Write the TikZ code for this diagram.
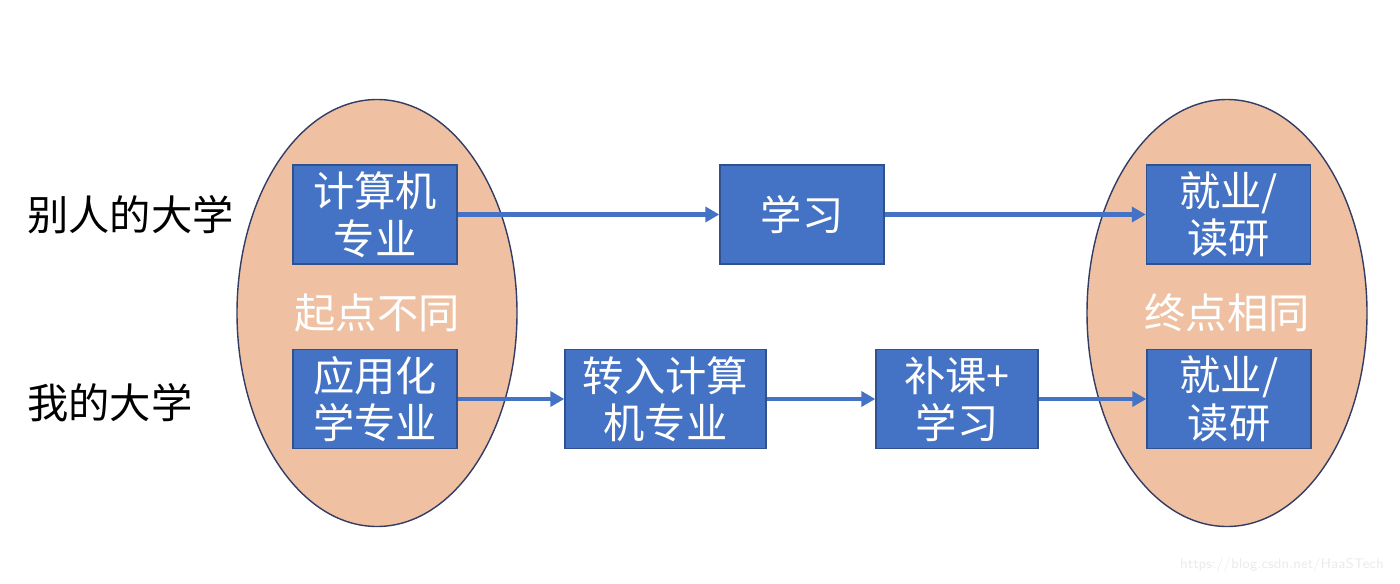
\documentclass[tikz,border=0pt]{standalone}
\usepackage{fontspec}
\setmainfont{Noto Sans CJK SC}
\usepackage{tikz}
\usetikzlibrary{positioning,arrows.meta,shapes.geometric}
\definecolor{BoxBlue}{RGB}{68,114,196}
\definecolor{BoxEdge}{RGB}{47,82,143}
\definecolor{EggFill}{RGB}{239,193,162}
\definecolor{EggEdge}{RGB}{50,60,100}
\tikzset{
  egg/.style={ellipse, draw=EggEdge, fill=EggFill, line width=0.8pt,
    minimum width=5.6cm, minimum height=8.54cm},
  stage/.style={rectangle, draw=BoxEdge, fill=BoxBlue, text=white, align=center,
    line width=0.8pt, minimum width=3.28cm, minimum height=1.98cm, inner sep=0pt,
    font=\fontsize{23.5}{27}\selectfont},
  side/.style={anchor=west, inner sep=0pt, font=\fontsize{23.5}{27}\selectfont},
  note/.style={text=white, inner sep=0pt, font=\fontsize{23.5}{27}\selectfont},
  arrow/.style={-{Triangle[length=0.28cm, width=0.3cm]}, line width=2.4pt, draw=BoxBlue}
}

\begin{document}
\begin{tikzpicture}
  \useasboundingbox (0,0) rectangle (28,-11.66);
  \node[egg] (start) at (7.54,-6.26) {};
  \node[egg] (goal) at (24.54,-6.26) {};
  \node[note] (diff) at (start) {起点不同};
  \node[note] (same) at (goal) {终点相同};
  \node[side] (others) at (0.54,-4.30) {别人的大学};
  \node[side] (mine) at (0.54,-8.06) {我的大学};
  % others' route
  \node[stage] (cs) at (7.5,-4.29) {计算机\\专业};
  \node[stage] (study) at (16.04,-4.29) {学习};
  \node[stage] (job1) at (24.57,-4.29) {就业/\\读研};
  % my route
  \node[stage] (chem) at (7.5,-7.98) {应用化\\学专业};
  \node[stage, minimum width=4.02cm] (switch) at (13.31,-7.98) {转入计算\\机专业};
  \node[stage, minimum width=3.24cm] (extra) at (19.14,-7.98) {补课+\\学习};
  \node[stage] (job2) at (24.58,-7.98) {就业/\\读研};
  \draw[arrow] (cs) -- (study);
  \draw[arrow] (study) -- (job1);
  \draw[arrow] (chem) -- (switch);
  \draw[arrow] (switch) -- (extra);
  \draw[arrow] (extra) -- (job2);
  \node[anchor=east, text=black!8, font=\fontsize{8}{9}\selectfont\sffamily] (mark) at (27.8,-11.3) {https://blog.csdn.net/HaaSTech};
\end{tikzpicture}
\end{document}
